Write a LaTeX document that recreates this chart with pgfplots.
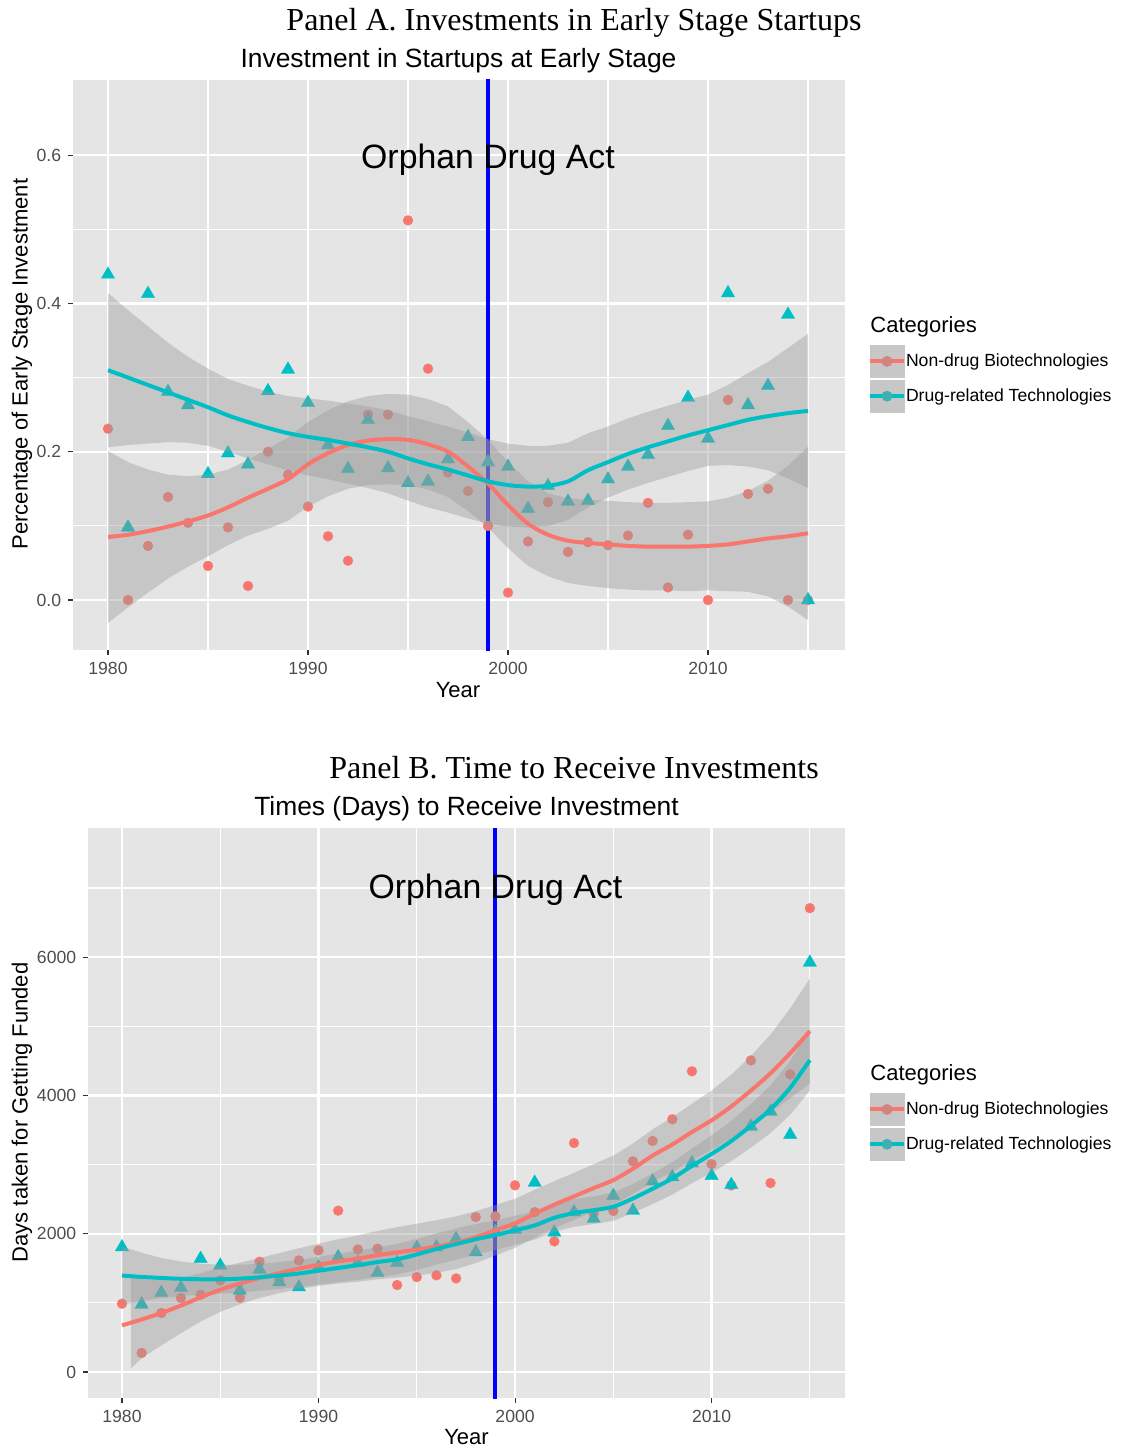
\documentclass[border=0pt]{standalone}
\usepackage{fontspec}
\setmainfont{Liberation Serif}
\newfontfamily\arial{Liberation Sans}
\usepackage{pgfplots}
\pgfplotsset{compat=1.18}
\usepackage{pgfplotstable}

\definecolor{ggred}{HTML}{F8766D}
\definecolor{ggteal}{HTML}{00BFC4}
\definecolor{panelbg}{HTML}{E5E5E5}
\definecolor{ribbon}{HTML}{999999}
\definecolor{keybg}{HTML}{C7C7C7}
\definecolor{ticklab}{HTML}{4D4D4D}
\definecolor{tickcol}{HTML}{333333}
\definecolor{keyred}{RGB}{210,132,127}
\definecolor{keyteal}{RGB}{61,176,179}

% ================= Panel A data =================
\pgfplotstableread{
year val
1980 0.231
1981 0.000
1982 0.073
1983 0.139
1984 0.104
1985 0.046
1986 0.098
1987 0.019
1988 0.200
1989 0.169
1990 0.126
1991 0.086
1992 0.053
1993 0.250
1994 0.250
1995 0.512
1996 0.312
1997 0.172
1998 0.147
1999 0.100
2000 0.010
2001 0.079
2002 0.132
2003 0.065
2004 0.078
2005 0.074
2006 0.087
2007 0.131
2008 0.017
2009 0.088
2010 0.000
2011 0.270
2012 0.143
2013 0.150
2014 0.000
2015 0.000
}\redApts

\pgfplotstableread{
year val
1980 0.439
1981 0.098
1982 0.413
1983 0.281
1984 0.263
1985 0.170
1986 0.198
1987 0.183
1988 0.282
1989 0.311
1990 0.266
1991 0.209
1992 0.177
1993 0.243
1994 0.178
1995 0.158
1996 0.160
1997 0.190
1998 0.220
1999 0.186
2000 0.180
2001 0.123
2002 0.154
2003 0.133
2004 0.134
2005 0.163
2006 0.180
2007 0.196
2008 0.235
2009 0.273
2010 0.218
2011 0.414
2012 0.263
2013 0.289
2014 0.385
2015 0.000
}\tealApts

% fitted (loess) curves
\pgfplotstableread{
year red teal
1980 0.085 0.310
1981 0.088 0.300
1982 0.093 0.290
1983 0.099 0.280
1984 0.106 0.270
1985 0.114 0.260
1986 0.125 0.249
1987 0.138 0.240
1988 0.150 0.232
1989 0.163 0.225
1990 0.183 0.220
1991 0.198 0.216
1992 0.209 0.211
1993 0.215 0.206
1994 0.217 0.200
1995 0.216 0.191
1996 0.210 0.183
1997 0.200 0.176
1998 0.180 0.168
1999 0.157 0.160
2000 0.128 0.155
2001 0.103 0.153
2002 0.088 0.154
2003 0.080 0.160
2004 0.077 0.175
2005 0.075 0.186
2006 0.073 0.197
2007 0.072 0.206
2008 0.072 0.214
2009 0.072 0.222
2010 0.073 0.229
2011 0.075 0.236
2012 0.079 0.243
2013 0.083 0.248
2014 0.086 0.252
2015 0.090 0.255
}\fitA

% confidence ribbons: upper edge forward, lower edge back
\pgfplotstableread{
year v
1980 0.201
1981 0.186
1982 0.176
1983 0.169
1984 0.167
1985 0.169
1986 0.176
1987 0.189
1988 0.204
1989 0.219
1990 0.240
1991 0.256
1992 0.268
1993 0.275
1994 0.278
1995 0.277
1996 0.271
1997 0.261
1998 0.240
1999 0.216
2000 0.186
2001 0.160
2002 0.144
2003 0.137
2004 0.135
2005 0.134
2006 0.132
2007 0.131
2008 0.131
2009 0.132
2010 0.133
2011 0.138
2012 0.147
2013 0.161
2014 0.181
2015 0.207
2015 -0.027
2014 -0.009
2013 0.005
2012 0.011
2011 0.012
2010 0.013
2009 0.012
2008 0.013
2007 0.013
2006 0.014
2005 0.016
2004 0.019
2003 0.023
2002 0.032
2001 0.046
2000 0.070
1999 0.098
1998 0.120
1997 0.139
1996 0.149
1995 0.155
1994 0.156
1993 0.155
1992 0.150
1991 0.140
1990 0.126
1989 0.107
1988 0.096
1987 0.087
1986 0.074
1985 0.059
1984 0.045
1983 0.029
1982 0.010
1981 -0.010
1980 -0.031
}\redAband

\pgfplotstableread{
year v
1980 0.414
1981 0.391
1982 0.369
1983 0.347
1984 0.328
1985 0.312
1986 0.298
1987 0.289
1988 0.281
1989 0.275
1990 0.272
1991 0.269
1992 0.265
1993 0.261
1994 0.256
1995 0.248
1996 0.241
1997 0.234
1998 0.226
1999 0.217
2000 0.211
2001 0.208
2002 0.208
2003 0.212
2004 0.225
2005 0.234
2006 0.245
2007 0.254
2008 0.262
2009 0.270
2010 0.277
2011 0.290
2012 0.306
2013 0.321
2014 0.340
2015 0.359
2015 0.151
2014 0.164
2013 0.175
2012 0.180
2011 0.182
2010 0.181
2009 0.174
2008 0.166
2007 0.158
2006 0.149
2005 0.138
2004 0.125
2003 0.108
2002 0.100
2001 0.098
2000 0.099
1999 0.103
1998 0.110
1997 0.118
1996 0.125
1995 0.134
1994 0.144
1993 0.151
1992 0.157
1991 0.163
1990 0.168
1989 0.175
1988 0.183
1987 0.191
1986 0.200
1985 0.208
1984 0.212
1983 0.213
1982 0.211
1981 0.209
1980 0.206
}\tealAband

% ================= Panel B data =================
\pgfplotstableread{
year val
1980 988
1981 275
1982 853
1983 1070
1984 1118
1985 1325
1986 1075
1987 1595
1988 1330
1989 1614
1990 1759
1991 2333
1992 1773
1993 1783
1994 1258
1995 1373
1996 1398
1997 1354
1998 2241
1999 2251
2000 2700
2001 2313
2002 1889
2003 3312
2004 2289
2005 2328
2006 3047
2007 3341
2008 3655
2009 4349
2010 3007
2011 2699
2012 4506
2013 2733
2014 4304
2015 6708
}\redBpts

\pgfplotstableread{
year val
1980 1807
1981 978
1982 1147
1983 1219
1984 1639
1985 1542
1986 1181
1987 1484
1988 1301
1989 1229
1990 1518
1991 1663
1992 1581
1993 1436
1994 1581
1995 1798
1996 1807
1997 1928
1998 1735
1999 2030
2000 2058
2001 2740
2002 2020
2003 2313
2004 2220
2005 2550
2006 2335
2007 2760
2008 2820
2009 3020
2010 2839
2011 2708
2012 3552
2013 3769
2014 3431
2015 5923
}\tealBpts

\pgfplotstableread{
year red teal
1980 675 1395
1981 760 1375
1982 855 1360
1983 960 1348
1984 1080 1341
1985 1190 1342
1986 1280 1350
1987 1360 1370
1988 1430 1395
1989 1495 1425
1990 1550 1465
1991 1600 1505
1992 1640 1545
1993 1690 1590
1994 1730 1630
1995 1770 1700
1996 1815 1780
1997 1870 1850
1998 1950 1920
1999 2050 1980
2000 2150 2050
2001 2290 2120
2002 2420 2230
2003 2540 2300
2004 2660 2340
2005 2775 2390
2006 2940 2510
2007 3130 2650
2008 3290 2800
2009 3470 2980
2010 3640 3154
2011 3840 3340
2012 4070 3560
2013 4320 3800
2014 4610 4110
2015 4930 4510
}\fitB

\pgfplotstableread{
year v
1980.45 1376
1981 1340
1982 1335
1983 1365
1984 1430
1985 1510
1986 1580
1987 1650
1988 1720
1989 1790
1990 1855
1991 1920
1992 1975
1993 2040
1994 2095
1995 2145
1996 2195
1997 2250
1998 2325
1999 2415
2000 2505
2001 2635
2002 2760
2003 2880
2004 3005
2005 3130
2006 3305
2007 3510
2008 3685
2009 3880
2010 4070
2011 4300
2012 4570
2013 4880
2014 5260
2015 5690
2015 4170
2014 3960
2013 3760
2012 3570
2011 3380
2010 3210
2009 3060
2008 2895
2007 2750
2006 2575
2005 2420
2004 2315
2003 2200
2002 2080
2001 1945
2000 1795
1999 1685
1998 1575
1997 1490
1996 1435
1995 1395
1994 1365
1993 1340
1992 1305
1991 1280
1990 1245
1989 1200
1988 1140
1987 1070
1986 980
1985 870
1984 730
1983 560
1982 385
1981 200
1980.45 50
}\redBband

\pgfplotstableread{
year v
1980 1815
1981 1725
1982 1650
1983 1598
1984 1566
1985 1552
1986 1550
1987 1565
1988 1590
1989 1620
1990 1665
1991 1710
1992 1755
1993 1805
1994 1850
1995 1925
1996 2005
1997 2075
1998 2140
1999 2195
2000 2260
2001 2325
2002 2430
2003 2500
2004 2540
2005 2595
2006 2720
2007 2870
2008 3035
2009 3230
2010 3424
2011 3630
2012 3875
2013 4145
2014 4500
2015 4950
2015 4070
2014 3720
2013 3455
2012 3245
2011 3050
2010 2884
2009 2730
2008 2565
2007 2430
2006 2300
2005 2185
2004 2140
2003 2100
2002 2030
2001 1915
2000 1840
1999 1765
1998 1700
1997 1625
1996 1555
1995 1475
1994 1410
1993 1375
1992 1335
1991 1300
1990 1265
1989 1230
1988 1200
1987 1175
1986 1150
1985 1132
1984 1116
1983 1098
1982 1070
1981 1025
1980 975
}\tealBband

\pgfplotsset{
  ggpanel/.style={
    scale only axis,
    clip marker paths=true,
    axis background/.style={fill=panelbg},
    axis line style={draw=none},
    grid=both,
    major grid style={white, line width=1.1pt},
    minor grid style={white, line width=0.55pt},
    tick align=outside,
    major tick length=2.4pt,
    minor tick length=0pt,
    tick style={tickcol, line width=0.55pt},
    xtick pos=left, ytick pos=left,
    ticklabel style={font=\arial\fontsize{8.8}{10}\selectfont, text=ticklab},
    legend cell align=left,
    legend style={draw=none, fill=none, inner sep=0pt, outer sep=0pt,
      row sep=1pt, column sep=0pt,
      font=\arial\fontsize{8.8}{10}\selectfont,
      nodes={inner sep=0pt, outer sep=0pt}},
  },
  redkey/.style={legend image code/.code={
      \fill[keybg] (0pt,-8pt) rectangle (17pt,8pt);
      \draw[ggred, line width=2pt] (0pt,0pt) -- (17pt,0pt);
      \fill[keyred] (8.5pt,0pt) circle (2.5pt);}},
  tealkey/.style={legend image code/.code={
      \fill[keybg] (0pt,-8pt) rectangle (17pt,8pt);
      \draw[ggteal, line width=2pt] (0pt,0pt) -- (17pt,0pt);
      \fill[keyteal] (8.5pt,0pt) circle (2.5pt);}},
  redpts/.style={color=ggred, only marks, mark=*, mark size=2.5pt,
      mark options={solid, fill=ggred, draw=ggred, line width=0.1pt}},
  tealpts/.style={color=ggteal, only marks, mark=triangle*, mark size=3.9pt,
      mark options={solid, fill=ggteal, draw=ggteal, line width=0.1pt}},
  ribbonfill/.style={fill=ribbon, fill opacity=0.4, draw=none, mark=none},
}

\begin{document}
\begin{tikzpicture}

% ================= Panel A =================
\node[font=\fontsize{16}{19}\selectfont] at (287pt,-11.5pt) {Panel A. Investments in Early Stage Startups};
\node[font=\arial\fontsize{13.2}{15}\selectfont] at (229.25pt,-30.5pt) {Investment in Startups at Early Stage};

\begin{axis}[ggpanel,
  at={(36.5pt,-325pt)}, anchor=south west,
  width=386pt, height=285pt,
  xmin=1978.25, xmax=2016.85, ymin=-0.0674, ymax=0.7013,
  xtick={1980,1990,2000,2010}, xticklabels={1980,1990,2000,2010},
  minor xtick={1985,1995,2005,2015},
  ytick={0,0.2,0.4,0.6}, yticklabels={0.0,0.2,0.4,0.6},
  minor ytick={0.1,0.3,0.5},
  legend style={at={(1.0298,0.5351)}, anchor=north west},
]
\addlegendimage{redkey}
\addlegendentry{Non-drug Biotechnologies}
\addlegendimage{tealkey}
\addlegendentry{Drug-related Technologies}

\addplot[blue, line width=2pt] coordinates {(1999,-0.1) (1999,0.8)};
\addplot[redpts] table[x=year,y=val] {\redApts};
\addplot[tealpts] table[x=year,y=val] {\tealApts};

\addplot[ribbonfill] table[x=year,y=v] {\redAband};
\addplot[ribbonfill] table[x=year,y=v] {\tealAband};

\addplot[ggred, line width=2pt, smooth] table[x=year,y=red] {\fitA};
\addplot[ggteal, line width=2pt, smooth] table[x=year,y=teal] {\fitA};

\node[font=\arial\fontsize{16.9}{19}\selectfont] at (axis cs:1999,0.594) {Orphan Drug Act};
\end{axis}

\node[font=\arial\fontsize{11}{13}\selectfont] at (229pt,-345pt) {Year};
\node[font=\arial\fontsize{11}{13}\selectfont, rotate=90] at (11pt,-182pt) {Percentage of Early Stage Investment};
\node[font=\arial\fontsize{11}{13}\selectfont, anchor=west, inner sep=0pt] at (435pt,-163.5pt) {Categories};

% ================= Panel B =================
\node[font=\fontsize{16}{19}\selectfont] at (287pt,-384pt) {Panel B. Time to Receive Investments};
\node[font=\arial\fontsize{13.2}{15}\selectfont] at (233.25pt,-404.5pt) {Times (Days) to Receive Investment};

\begin{axis}[ggpanel,
  at={(44pt,-699pt)}, anchor=south west,
  width=378.5pt, height=285pt,
  xmin=1978.27, xmax=2016.79, ymin=-376, ymax=7867,
  xtick={1980,1990,2000,2010}, xticklabels={1980,1990,2000,2010},
  minor xtick={1985,1995,2005,2015},
  ytick={0,2000,4000,6000}, yticklabels={0,2000,4000,6000},
  minor ytick={1000,3000,5000,7000},
  legend style={at={(1.0304,0.535)}, anchor=north west},
]
\addlegendimage{redkey}
\addlegendentry{Non-drug Biotechnologies}
\addlegendimage{tealkey}
\addlegendentry{Drug-related Technologies}

\addplot[blue, line width=2pt] coordinates {(1999,-1000) (1999,9000)};
\addplot[redpts] table[x=year,y=val] {\redBpts};
\addplot[tealpts] table[x=year,y=val] {\tealBpts};

\addplot[ribbonfill] table[x=year,y=v] {\redBband};
\addplot[ribbonfill] table[x=year,y=v] {\tealBband};

\addplot[ggred, line width=2pt, smooth] table[x=year,y=red] {\fitB};
\addplot[ggteal, line width=2pt, smooth] table[x=year,y=teal] {\fitB};

\node[font=\arial\fontsize{16.9}{19}\selectfont] at (axis cs:1999,6970) {Orphan Drug Act};
\end{axis}

\node[font=\arial\fontsize{11}{13}\selectfont] at (233.25pt,-718.5pt) {Year};
\node[font=\arial\fontsize{11}{13}\selectfont, rotate=90] at (11pt,-556.25pt) {Days taken for Getting Funded};
\node[font=\arial\fontsize{11}{13}\selectfont, anchor=west, inner sep=0pt] at (435pt,-537.5pt) {Categories};

\pgfresetboundingbox
\useasboundingbox (0pt,0pt) rectangle (560pt,-725pt);
\end{tikzpicture}
\end{document}
